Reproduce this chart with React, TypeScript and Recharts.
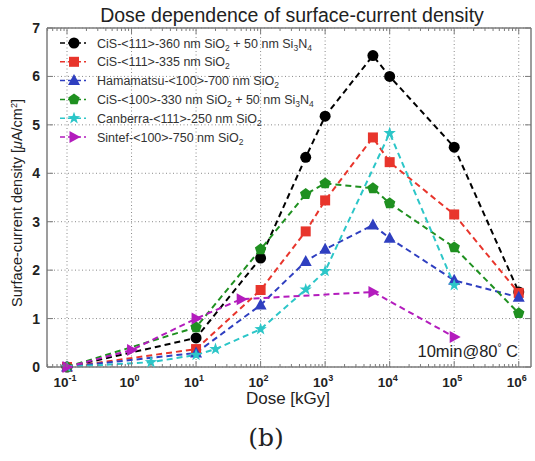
import React from 'react';
import { LineChart, Line, XAxis, YAxis, CartesianGrid, ReferenceLine } from 'recharts';

// dose values [kGy] and surface-current density [uA/cm2]
const doseMain = [0.1, 10, 100, 500, 1000, 5500, 10000, 100000, 1000000];
const cis111Nitride = [0, 0.6, 2.25, 4.33, 5.18, 6.43, 6.0, 4.54, 1.55];
const cis111 = [0, 0.37, 1.59, 2.8, 3.44, 4.74, 4.23, 3.15, 1.53];
const hamamatsu = [0, 0.29, 1.28, 2.18, 2.43, 2.93, 2.66, 1.79, 1.44];
const cis100Nitride = [0, 0.82, 2.43, 3.57, 3.79, 3.69, 3.38, 2.47, 1.11];
const doseCanberra = [0.1, 2, 10, 20, 100, 500, 1000, 10000, 100000];
const canberra = [0, 0.1, 0.25, 0.37, 0.78, 1.6, 1.98, 4.83, 1.69];
const doseSintef = [0.1, 1, 10, 50, 5500, 100000];
const sintef = [0, 0.35, 1.0, 1.4, 1.55, 0.62];

const decadeTicks = [0.1, 1, 10, 100, 1000, 10000, 100000, 1000000];
const decadeLabels = ['-1', '0', '1', '2', '3', '4', '5', '6'];
const yTicks = [0, 1, 2, 3, 4, 5, 6, 7];

const X_MIN = Math.pow(10, -1.31);
const X_MAX = Math.pow(10, 6.19);
const PLOT_TOP = 28;
const PLOT_RIGHT = 531;
const AXIS = '#7c7c7c';
const FONT = '"Liberation Sans", Arial, sans-serif';

const minorTicks: number[] = [];
[0.01, 0.1, 1, 10, 100, 1000, 10000, 100000].forEach((d) => {
  for (let k = 2; k <= 9; k++) {
    const v = d * k;
    if (v > X_MIN && v < X_MAX) minorTicks.push(v);
  }
});
const allXTicks = [...decadeTicks, ...minorTicks].sort((a, b) => a - b);

type Seg = [string, boolean?];
const series: { id: string; label: Seg[]; color: string; shape: string; x: number[]; y: number[] }[] = [
  { id: 'a', label: [['CiS-<111>-360 nm SiO'], ['2', true], [' + 50 nm Si'], ['3', true], ['N'], ['4', true]], color: '#000000', shape: 'circle', x: doseMain, y: cis111Nitride },
  { id: 'b', label: [['CiS-<111>-335 nm SiO'], ['2', true]], color: '#e8352c', shape: 'square', x: doseMain, y: cis111 },
  { id: 'c', label: [['Hamamatsu-<100>-700 nm SiO'], ['2', true]], color: '#2f3fc0', shape: 'triangle', x: doseMain, y: hamamatsu },
  { id: 'd', label: [['CiS-<100>-330 nm SiO'], ['2', true], [' + 50 nm Si'], ['3', true], ['N'], ['4', true]], color: '#1f9020', shape: 'pentagon', x: doseMain, y: cis100Nitride },
  { id: 'e', label: [['Canberra-<111>-250 nm SiO'], ['2', true]], color: '#2cc6c8', shape: 'star', x: doseCanberra, y: canberra },
  { id: 'f', label: [['Sintef-<100>-750 nm SiO'], ['2', true]], color: '#b31cbd', shape: 'right', x: doseSintef, y: sintef },
];

const polygon = (cx: number, cy: number, n: number, r: number, inner?: number) => {
  const pts: string[] = [];
  const count = inner ? n * 2 : n;
  for (let i = 0; i < count; i++) {
    const rad = inner && i % 2 === 1 ? inner : r;
    const a = -Math.PI / 2 + (i * 2 * Math.PI) / count;
    pts.push(`${cx + rad * Math.cos(a)},${cy + rad * Math.sin(a)}`);
  }
  return pts.join(' ');
};

const Marker = ({ shape, cx, cy, color }: { shape: string; cx: number; cy: number; color: string }) => {
  if (cx == null || cy == null) return null;
  switch (shape) {
    case 'circle':
      return <circle cx={cx} cy={cy} r={5.5} fill={color} />;
    case 'square':
      return <rect x={cx - 5} y={cy - 5} width={10} height={10} fill={color} />;
    case 'triangle':
      return <polygon points={`${cx},${cy - 6.5} ${cx + 6},${cy + 4.5} ${cx - 6},${cy + 4.5}`} fill={color} />;
    case 'pentagon':
      return <polygon points={polygon(cx, cy, 5, 6)} fill={color} />;
    case 'star':
      return <polygon points={polygon(cx, cy, 5, 6.5, 2.6)} fill={color} />;
    default:
      return <polygon points={`${cx + 6.5},${cy} ${cx - 4.5},${cy - 6} ${cx - 4.5},${cy + 6}`} fill={color} />;
  }
};

const XTick = (props: any) => {
  const { x, y, payload } = props;
  const idx = decadeTicks.findIndex((d) => Math.abs(Math.log10(d) - Math.log10(payload.value)) < 1e-6);
  const len = idx >= 0 ? 6 : 3;
  return (
    <g>
      <line x1={x} x2={x} y1={y} y2={y - len} stroke={AXIS} />
      <line x1={x} x2={x} y1={PLOT_TOP} y2={PLOT_TOP + len} stroke={AXIS} />
      {idx >= 0 && (
        <text x={x - 2} y={y + 20} textAnchor="middle" fontFamily={FONT} fontSize={13.5} fontWeight="bold" fill="#222">
          10<tspan dy={-6} fontSize={9}>{decadeLabels[idx]}</tspan>
        </text>
      )}
    </g>
  );
};

const YTick = (props: any) => {
  const { x, y, payload } = props;
  return (
    <g>
      <line x1={x} x2={x + 6} y1={y} y2={y} stroke={AXIS} />
      <line x1={PLOT_RIGHT - 6} x2={PLOT_RIGHT} y1={y} y2={y} stroke={AXIS} />
      <text x={x - 7} y={y + 5} textAnchor="end" fontFamily={FONT} fontSize={14} fontWeight="bold" fill="#222">
        {payload.value}
      </text>
    </g>
  );
};

const LegendLabel = ({ segs, x, y }: { segs: Seg[]; x: number; y: number }) => (
  <text x={x} y={y} fontFamily={FONT} fontSize={12.5} fill="#333">
    {segs.map(([t, sub], i) =>
      sub ? (
        <tspan key={i} fontSize={8.5} dy={3}>{t}</tspan>
      ) : (
        <tspan key={i} dy={i > 0 && segs[i - 1][1] ? -3 : 0}>{t}</tspan>
      )
    )}
  </text>
);

export default function App() {
  return (
    <div style={{ position: 'absolute', left: 0, top: 0, width: 535, height: 461, background: '#fff' }}>
      <LineChart width={535} height={461} margin={{ top: PLOT_TOP, right: 535 - PLOT_RIGHT, bottom: 0, left: 0 }}>
        <CartesianGrid vertical={false} stroke="#8a8a8a" strokeDasharray="1 2.5" />
        {decadeTicks.map((d) => (
          <ReferenceLine key={d} x={d} stroke="#8a8a8a" strokeDasharray="1 2.5" />
        ))}
        <ReferenceLine y={7} stroke={AXIS} strokeWidth={1.5} />
        <ReferenceLine x={X_MAX} stroke={AXIS} strokeWidth={1.5} />
        <XAxis
          type="number"
          dataKey="x"
          scale="log"
          domain={[X_MIN, X_MAX]}
          allowDataOverflow
          ticks={allXTicks}
          interval={0}
          height={94}
          tickSize={0}
          tickMargin={0}
          tickLine={false}
          tick={<XTick />}
          axisLine={{ stroke: AXIS, strokeWidth: 1.5 }}
        />
        <YAxis
          type="number"
          domain={[0, 7]}
          ticks={yTicks}
          interval={0}
          width={47}
          tickSize={0}
          tickMargin={0}
          tickLine={false}
          tick={<YTick />}
          axisLine={{ stroke: AXIS, strokeWidth: 1.5 }}
        />
        {series.map((s) => (
          <Line
            key={s.id}
            data={s.x.map((x, i) => ({ x, y: s.y[i] }))}
            dataKey="y"
            type="linear"
            stroke={s.color}
            strokeWidth={2}
            strokeDasharray="6 4"
            isAnimationActive={false}
            dot={(p: any) => <Marker key={`${s.id}-${p.index}`} shape={s.shape} cx={p.cx} cy={p.cy} color={s.color} />}
          />
        ))}
      </LineChart>
      <svg width={535} height={461} style={{ position: 'absolute', left: 0, top: 0, pointerEvents: 'none' }}>
        <text x={292} y={22} textAnchor="middle" fontFamily={FONT} fontSize={19.5} fill="#222">
          Dose dependence of surface-current density
        </text>
        {series.map((s, i) => {
          const cy = 43 + i * 18.8;
          return (
            <g key={s.id}>
              <line x1={60} x2={86} y1={cy} y2={cy} stroke={s.color} strokeWidth={1.5} strokeDasharray="5 3" />
              <Marker shape={s.shape} cx={74} cy={cy} color={s.color} />
              <LegendLabel segs={s.label} x={97} y={cy + 4.5} />
            </g>
          );
        })}
        <text x={518} y={357} textAnchor="end" fontFamily={FONT} fontSize={16.5} fill="#222">
          10min@80<tspan dy={-6} fontSize={10}>°</tspan><tspan dy={6}> C</tspan>
        </text>
        <text x={288} y={404} textAnchor="middle" fontFamily={FONT} fontSize={17} fill="#222">
          Dose [kGy]
        </text>
        <text
          transform="translate(22,203) rotate(-90)"
          textAnchor="middle"
          fontFamily={FONT}
          fontSize={14.5}
          fill="#222"
        >
          Surface-current density [<tspan fontStyle="italic">μ</tspan>A/cm<tspan dy={-5} fontSize={9}>2</tspan><tspan dy={5}>]</tspan>
        </text>
        <text x={266} y={446} textAnchor="middle" fontFamily='"DejaVu Serif", "Liberation Serif", serif' fontSize={25} fill="#222">
          (b)
        </text>
      </svg>
    </div>
  );
}
